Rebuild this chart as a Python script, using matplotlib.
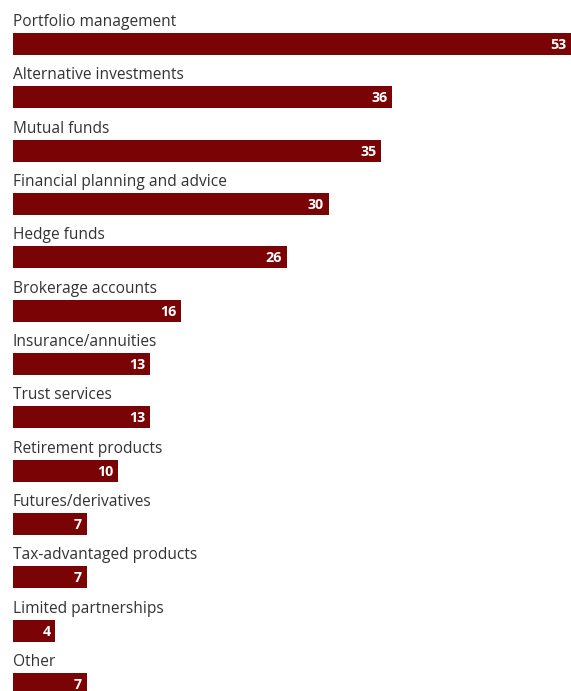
import matplotlib.pyplot as plt

categories = [
    "Portfolio management",
    "Alternative investments",
    "Mutual funds",
    "Financial planning and advice",
    "Hedge funds",
    "Brokerage accounts",
    "Insurance/annuities",
    "Trust services",
    "Retirement products",
    "Futures/derivatives",
    "Tax-advantaged products",
    "Limited partnerships",
    "Other",
]
values = [53, 36, 35, 30, 26, 16, 13, 13, 10, 7, 7, 4, 7]

bar_color = "#7a0306"
text_color = "#333333"

W, H = 571, 691
fig = plt.figure(figsize=(W / 100, H / 100), dpi=100)
# axes run from the bar origin to the right edge, full height
ax = fig.add_axes([13 / W, 0, 1 - 13 / W, 1])

row_px = 53.33
ax.set_xlim(0, 53)
ax.set_ylim((H - 44) / row_px, -44 / row_px)
bar_h = 22 / row_px

rows = range(len(categories))
ax.barh(list(rows), values, height=bar_h, color=bar_color, edgecolor="none")

for i, (name, v) in enumerate(zip(categories, values)):
    ax.text(0, i - bar_h / 2 - 7 / row_px, name, ha="left", va="baseline",
            fontsize=11.2, color=text_color, family="Open Sans")
    ax.text(v - 0.45, i + 0.02, str(v), ha="right", va="center",
            fontsize=10.3, color="white", fontweight="bold", family="Open Sans")

ax.axis("off")
fig.savefig("out.png", dpi=100)
